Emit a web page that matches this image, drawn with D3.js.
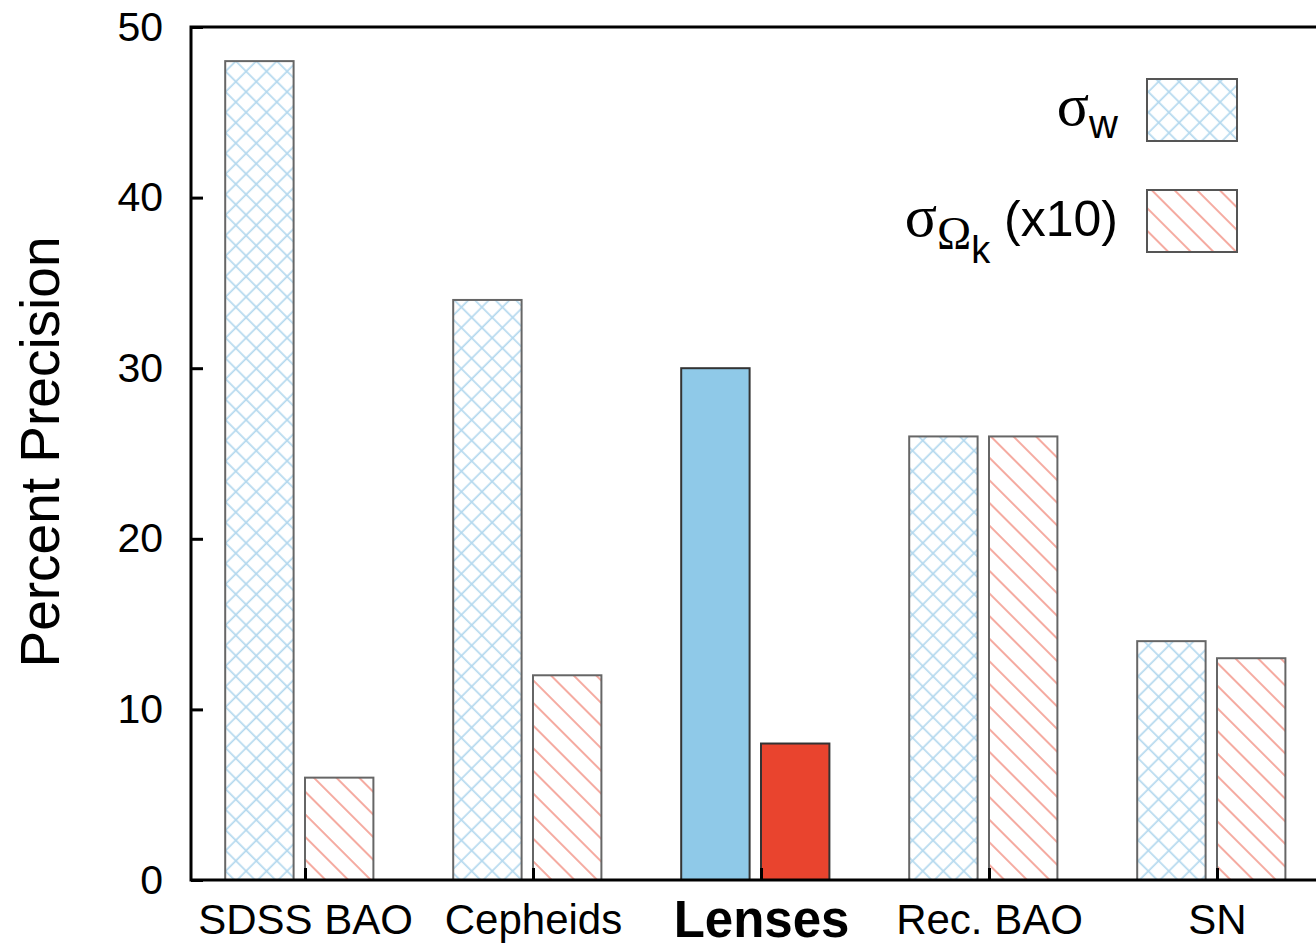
<!DOCTYPE html>
<html>
<head>
<meta charset="utf-8">
<script src="https://cdn.jsdelivr.net/npm/d3@7"></script>
<style>
  html, body { margin: 0; padding: 0; background: #fff; }
  svg { display: block; }
  text { font-family: "Liberation Sans", Arial, Helvetica, sans-serif; fill: #000; }
</style>
</head>
<body>
<svg id="chart" width="1316" height="949"></svg>
<script>
// Survey probes and their forecast precision (percent)
const categories = ["SDSS BAO", "Cepheids", "Lenses", "Rec. BAO", "SN"];
const sigmaW = [48, 34, 30, 26, 14];          // sigma_w
const sigmaOmegaK = [6, 12, 8, 26, 13];       // sigma_Omega_k (x10)
const yTicks = [0, 10, 20, 30, 40, 50];
const highlight = "Lenses";

const W = 1316, H = 949;
const margin = { left: 191, top: 27, bottom: 69 };
const step = 228;
const svg = d3.select("#chart");

const x = d3.scaleLinear()
  .domain([-0.5, categories.length - 0.5])
  .range([margin.left, margin.left + step * categories.length]);
const y = d3.scaleLinear().domain([0, 50]).range([H - margin.bottom, margin.top]);

// hatch patterns
const defs = svg.append("defs");
const cross = defs.append("pattern")
  .attr("id", "crossHatch").attr("patternUnits", "userSpaceOnUse")
  .attr("width", 14.5).attr("height", 14.5)
  .attr("patternTransform", "rotate(45)");
cross.append("line").attr("x1", 0).attr("x2", 14.5).attr("y1", 7).attr("y2", 7)
  .attr("stroke", "#b3d8ee").attr("stroke-width", 1.7);
cross.append("line").attr("y1", 0).attr("y2", 14.5).attr("x1", 7).attr("x2", 7)
  .attr("stroke", "#b3d8ee").attr("stroke-width", 1.7);

const diag = defs.append("pattern")
  .attr("id", "diagHatch").attr("patternUnits", "userSpaceOnUse")
  .attr("width", 16).attr("height", 16)
  .attr("patternTransform", "rotate(45)");
diag.append("line").attr("x1", 0).attr("x2", 16).attr("y1", 8).attr("y2", 8)
  .attr("stroke", "#f3968a").attr("stroke-width", 1.6);

const fillW = c => c === highlight ? "#8fc9e8" : "url(#crossHatch)";
const fillK = c => c === highlight ? "#e9442e" : "url(#diagHatch)";
const strokeOf = c => c === highlight ? "#333" : "#666";

// bars
const bw = 0.3 * step;
svg.append("g").selectAll("rect").data(categories).join("rect")
  .attr("x", (c, i) => x(i) - 0.35 * step)
  .attr("y", (c, i) => y(sigmaW[i]))
  .attr("width", bw)
  .attr("height", (c, i) => y(0) - y(sigmaW[i]))
  .attr("fill", c => fillW(c))
  .attr("stroke", c => strokeOf(c)).attr("stroke-width", 2);

svg.append("g").selectAll("rect").data(categories).join("rect")
  .attr("x", (c, i) => x(i))
  .attr("y", (c, i) => y(sigmaOmegaK[i]))
  .attr("width", bw)
  .attr("height", (c, i) => y(0) - y(sigmaOmegaK[i]))
  .attr("fill", c => fillK(c))
  .attr("stroke", c => strokeOf(c)).attr("stroke-width", 2);

// y axis
const yAxis = svg.append("g").attr("transform", `translate(${margin.left},0)`)
  .call(d3.axisLeft(y).tickValues(yTicks).tickSize(-12).tickPadding(28));
yAxis.select(".domain").remove();
yAxis.selectAll(".tick line").attr("stroke", "#000").attr("stroke-width", 3);
yAxis.selectAll(".tick text").attr("font-size", 41).attr("font-family", "Liberation Sans, Arial, sans-serif");

// x axis
const xAxis = svg.append("g").attr("transform", `translate(0,${y(0)})`)
  .call(d3.axisBottom(x).tickValues(d3.range(categories.length))
    .tickFormat(i => categories[i]).tickSize(-12).tickPadding(24));
xAxis.select(".domain").remove();
xAxis.selectAll(".tick line").attr("stroke", "#000").attr("stroke-width", 3);
xAxis.selectAll(".tick text")
  .attr("font-family", "Liberation Sans, Arial, sans-serif")
  .attr("font-size", i => categories[i] === highlight ? 51 : 42)
  .attr("font-weight", i => categories[i] === highlight ? "bold" : "normal")
  .attr("y", i => categories[i] === highlight ? 21 : 24);

// frame
const frame = svg.append("g").attr("stroke", "#000").attr("stroke-width", 3).attr("fill", "none");
frame.append("path").attr("d", `M${W},${y(50)}H${margin.left}V${y(0)}H${W}`);

// y title
svg.append("text")
  .attr("transform", `translate(59,452) rotate(-90)`)
  .attr("text-anchor", "middle")
  .attr("font-size", 55)
  .text("Percent Precision");

// legend
const legendRows = [
  { sym: "σ", sub: "w", subFamily: "Liberation Sans", extra: "", fill: "url(#crossHatch)" },
  { sym: "σ", sub: "Ω", subFamily: "Liberation Serif", sub2: "k", extra: " (x10)", fill: "url(#diagHatch)" }
];
const legendY = [110, 221];
legendRows.forEach((r, k) => {
  const cy = legendY[k];
  svg.append("rect")
    .attr("x", 1147).attr("y", cy - 31).attr("width", 90).attr("height", 62)
    .attr("fill", r.fill).attr("stroke", "#555").attr("stroke-width", 2);
  const t = svg.append("text")
    .attr("x", 1118).attr("y", cy + 15)
    .attr("text-anchor", "end");
  t.append("tspan").attr("font-family", "Liberation Serif, Times, serif")
    .attr("font-size", 60).text(r.sym);
  t.append("tspan").attr("font-family", r.subFamily)
    .attr("font-size", r.sub2 ? 46 : 40).attr("dy", 13).text(r.sub);
  if (r.sub2) {
    t.append("tspan").attr("font-family", "Liberation Sans")
      .attr("font-size", 38).attr("dy", 14).text(r.sub2);
    t.append("tspan").attr("font-family", "Liberation Sans")
      .attr("font-size", 50).attr("dy", -27).text(r.extra);
  }
});
</script>
</body>
</html>
